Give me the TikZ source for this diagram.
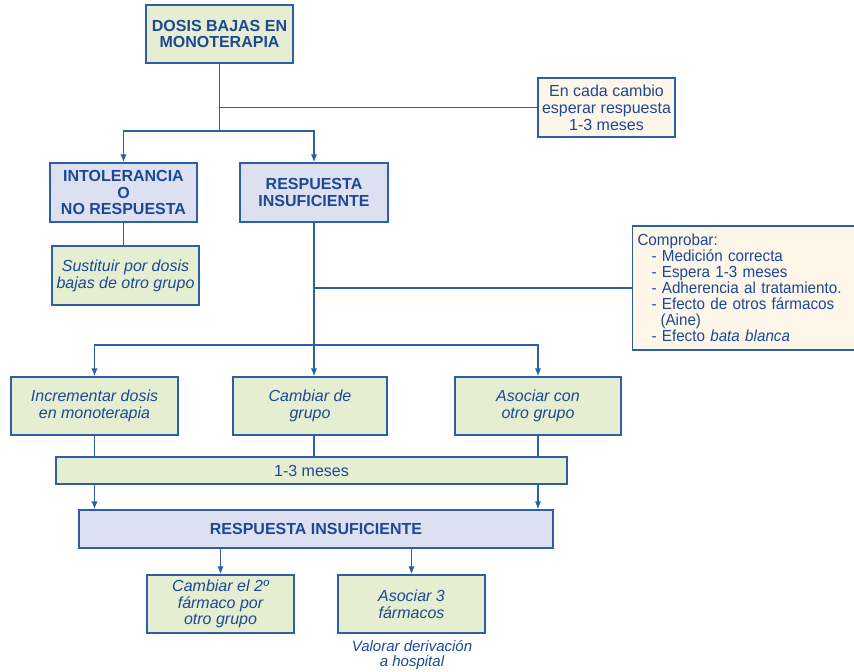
\documentclass[tikz,border=0pt]{standalone}
\usepackage{fontspec}
\setmainfont{Liberation Sans}
\newfontfamily\narrowfont{Liberation Sans}[FakeStretch=0.95]
\usetikzlibrary{arrows.meta,positioning}

\definecolor{lineblue}{RGB}{45,95,165}
\definecolor{textblue}{RGB}{28,72,148}
\definecolor{boxgreen}{RGB}{230,238,210}
\definecolor{boxlilac}{RGB}{221,224,241}
\definecolor{boxcream}{RGB}{253,246,233}

\tikzset{
  box/.style={draw=lineblue, line width=0.7pt, text=textblue, align=center, inner sep=2pt,
    font=\fontsize{8}{8.4}\selectfont},
  startbox/.style={box, fill=boxgreen, font=\fontsize{8}{8.4}\selectfont\bfseries},
  headbox/.style={box, fill=boxlilac, font=\fontsize{8}{8.4}\selectfont\bfseries},
  actbox/.style={box, fill=boxgreen, font=\fontsize{8}{8.4}\selectfont\itshape},
  notebox/.style={box, fill=boxcream},
}

\begin{document}
\begin{tikzpicture}[x=0.5pt,y=-0.5pt,line width=0.7pt,draw=lineblue,
    >={Latex[length=4pt,width=3.2pt]}]
   \useasboundingbox (0,0) rectangle (854,671);

   \node[startbox,minimum width=73.5pt,minimum height=29pt] (dosis) at (219.5,34) {DOSIS BAJAS EN\\MONOTERAPIA};
   \node[notebox,minimum width=68.5pt,minimum height=29.5pt] (cada) at (606.5,107.5) {En cada cambio\\esperar respuesta\\1-3 meses};
   \node[headbox,minimum width=73.5pt,minimum height=29.5pt] (intol) at (123.5,192.5) {INTOLERANCIA\\O\\NO RESPUESTA};
   \node[headbox,minimum width=74pt,minimum height=29.5pt] (resp1) at (314,192.5) {RESPUESTA\\INSUFICIENTE};
   \node[actbox,minimum width=73.5pt,minimum height=29.5pt] (sust) at (125.5,275.5) {Sustituir por dosis\\bajas de otro grupo};
   \node[notebox,align=left,text width=106pt,inner sep=2.5pt,minimum height=62pt,
     font=\fontsize{8}{8}\narrowfont] (comp) at (743.5,288)
     {Comprobar:\\
      \hspace*{7pt}- Medición correcta\\
      \hspace*{7pt}- Espera 1-3 meses\\
      \hspace*{7pt}- Adherencia al tratamiento.\\
      \hspace*{7pt}- Efecto de otros fármacos\\
      \hspace*{11.5pt}(Aine)\\
      \hspace*{7pt}- Efecto \textit{bata blanca}};
   \node[actbox,minimum width=83.5pt,minimum height=29pt] (incr) at (94.5,406) {Incrementar dosis\\en monoterapia};
   \node[actbox,minimum width=77pt,minimum height=29pt] (camb) at (310,406) {Cambiar de\\grupo};
   \node[actbox,minimum width=83pt,minimum height=29pt] (asoc) at (538,406) {Asociar con\\otro grupo};
   \node[box,fill=boxgreen,minimum width=255.5pt,minimum height=13.5pt] (meses) at (311.5,470.5) {1-3 meses};
   \node[headbox,minimum width=237pt,minimum height=19pt] (resp2) at (316,529) {RESPUESTA INSUFICIENTE};
   \node[actbox,minimum width=73.5pt,minimum height=29pt] (camb2) at (220.5,604) {Cambiar el 2º\\fármaco por\\otro grupo};
   \node[actbox,minimum width=73.5pt,minimum height=29pt] (asoc3) at (411.5,604) {Asociar 3\\fármacos};
   \node[text=textblue,align=center,font=\fontsize{7.5}{7.8}\selectfont\itshape] (valor) at (412,655) {Valorar derivación\\a hospital};

   \coordinate (split1) at (219.5,131);
   \coordinate (split2) at (314,345);

   % first level
   \draw (dosis) -- (split1);
   \draw (dosis.south |- cada.west) -- (cada.west);
   \draw[->] (split1) -| (intol.north);
   \draw[->] (split1) -| (resp1.north);
   \draw (intol) -- (intol.south |- sust.north);

   % second level
   \draw (resp1) -- (split2);
   \draw (resp1.south |- comp.west) -- (comp.west);
   \draw[->] (split2) -| (incr.north);
   \draw[->] (split2) -- (split2 |- camb.north);
   \draw[->] (split2) -| (asoc.north);
   \draw (incr.south) -- (incr.south |- meses.north);
   \draw (split2 |- camb.south) -- (split2 |- meses.north);
   \draw (asoc.south) -- (asoc.south |- meses.north);
   \draw[->] (meses.south -| incr.south) -- (resp2.north -| incr.south);
   \draw[->] (meses.south -| asoc.south) -- (resp2.north -| asoc.south);

   % third level
   \draw[->] (resp2.south -| camb2.north) -- (camb2.north);
   \draw[->] (resp2.south -| asoc3.north) -- (asoc3.north);
\end{tikzpicture}
\end{document}
